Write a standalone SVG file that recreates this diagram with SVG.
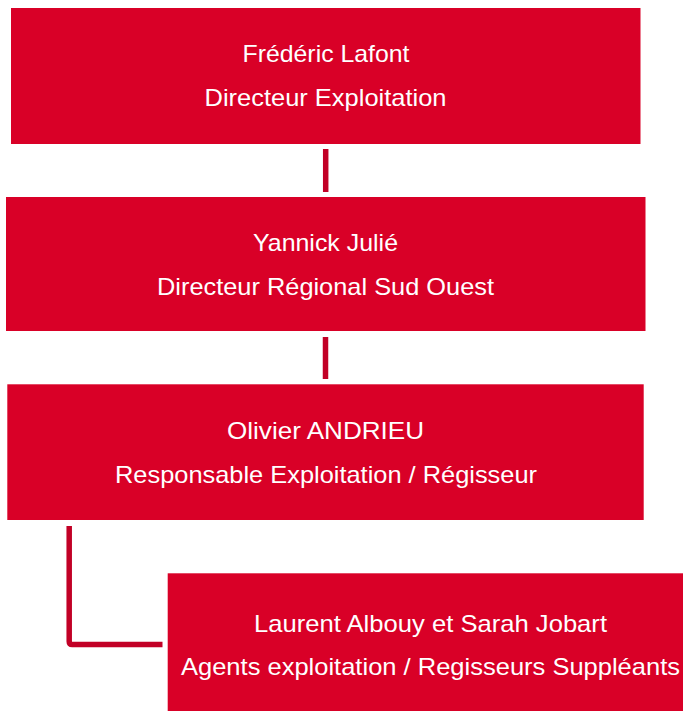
<svg xmlns="http://www.w3.org/2000/svg" width="683" height="711" viewBox="0 0 683 711">
<style>
.box{fill:#D90027;}
.t{font-family:"Liberation Sans","DejaVu Sans",sans-serif;font-size:24px;fill:#FFFFFF;text-anchor:middle;}
.c{fill:none;stroke:#C20026;stroke-width:5.5;}
</style>
<rect width="683" height="711" fill="#FFFFFF"/>
<g id="connectors">
<line class="c" x1="325.7" y1="149" x2="325.7" y2="192"/>
<line class="c" x1="325.5" y1="337" x2="325.5" y2="379"/>
<path class="c" d="M69.2,526 V641.5 Q69.2,644.5 72.2,644.5 H162.5"/>
</g>
<g id="node1">
<rect class="box" x="11" y="8" width="629.5" height="136"/>
<text class="t" x="326" y="61.7" textLength="167" lengthAdjust="spacingAndGlyphs">Frédéric Lafont</text>
<text class="t" x="325.5" y="106" textLength="242" lengthAdjust="spacingAndGlyphs">Directeur Exploitation</text>
</g>
<g id="node2">
<rect class="box" x="6" y="197" width="639.5" height="134"/>
<text class="t" x="325.5" y="251" textLength="145" lengthAdjust="spacingAndGlyphs">Yannick Julié</text>
<text class="t" x="325.5" y="295" textLength="337" lengthAdjust="spacingAndGlyphs">Directeur Régional Sud Ouest</text>
</g>
<g id="node3">
<rect class="box" x="7.3" y="384.3" width="636.4" height="135.7"/>
<text class="t" x="325.5" y="439.3" textLength="197" lengthAdjust="spacingAndGlyphs">Olivier ANDRIEU</text>
<text class="t" x="326" y="482.7" textLength="422" lengthAdjust="spacingAndGlyphs">Responsable Exploitation / Régisseur</text>
</g>
<g id="node4">
<rect class="box" x="167.7" y="573.3" width="525" height="140"/>
<text class="t" x="430.5" y="631.7" textLength="353" lengthAdjust="spacingAndGlyphs">Laurent Albouy et Sarah Jobart</text>
<text class="t" x="430.5" y="675" textLength="499" lengthAdjust="spacingAndGlyphs">Agents exploitation / Regisseurs Suppléants</text>
</g>
</svg>
